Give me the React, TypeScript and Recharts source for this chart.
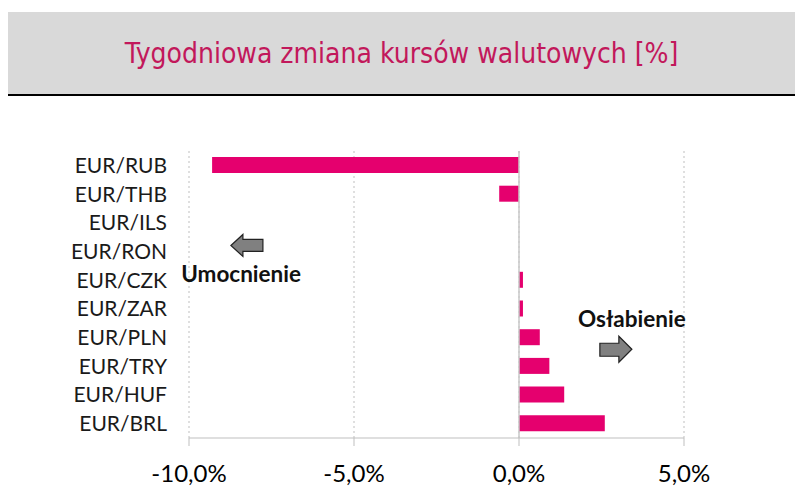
import React from 'react';
import { BarChart, Bar, XAxis, YAxis, CartesianGrid, ReferenceLine, ReferenceDot } from 'recharts';

const categories = ['EUR/RUB', 'EUR/THB', 'EUR/ILS', 'EUR/RON', 'EUR/CZK', 'EUR/ZAR', 'EUR/PLN', 'EUR/TRY', 'EUR/HUF', 'EUR/BRL'];
const changes = [-9.3, -0.6, 0, 0, 0.12, 0.12, 0.63, 0.92, 1.37, 2.6];
const xTicks = [-10, -5, 0, 5];
const title = 'Tygodniowa zmiana kursów walutowych [%]';
const leftLabel = 'Umocnienie';
const rightLabel = 'Osłabienie';

const data = categories.map((c, i) => ({ name: c, value: changes[i] }));

const fmt = (v: number) => `${v.toFixed(1).replace('.', ',')}%`;

const LeftArrow = (props: any) => {
  const { cx, cy } = props;
  const x = cx, y = cy - 6;
  const pts = [
    [x, y],
    [x + 12, y - 11],
    [x + 12, y - 6],
    [x + 32, y - 6],
    [x + 32, y + 6],
    [x + 12, y + 6],
    [x + 12, y + 11],
  ].map(p => p.join(',')).join(' ');
  return <polygon points={pts} fill="#808080" stroke="#222" strokeWidth={1.2} />;
};

const RightArrow = (props: any) => {
  const { cx, cy } = props;
  const x = cx, y = cy - 17;
  const pts = [
    [x, y],
    [x - 13, y - 13],
    [x - 13, y - 6],
    [x - 32, y - 6],
    [x - 32, y + 7],
    [x - 13, y + 7],
    [x - 13, y + 13],
  ].map(p => p.join(',')).join(' ');
  return <polygon points={pts} fill="#808080" stroke="#222" strokeWidth={1.2} />;
};

const makeText = (text: string, dy: number) => (props: any) => {
  const { cx, cy } = props;
  return (
    <text x={cx} y={cy + dy} textAnchor="middle" dominantBaseline="central"
      fontFamily="Lato, 'Open Sans', sans-serif" fontWeight={700} fontSize={22.5} fill="#111">
      {text}
    </text>
  );
};

export default function App() {
  return (
    <div style={{ position: 'absolute', left: 0, top: 0, width: 800, height: 504, background: '#fff' }}>
      <div style={{
        position: 'absolute', left: 8, top: 12, width: 787, height: 82,
        background: '#D9D9D9', borderBottom: '2px solid #000',
        display: 'flex', alignItems: 'center', justifyContent: 'center',
        fontFamily: "'DejaVu Sans Condensed', 'DejaVu Sans', sans-serif", fontSize: 28, color: '#C2185B',
      }}>
        {title}
      </div>
      <div style={{ position: 'absolute', left: 0, top: 0 }}>
        <BarChart width={800} height={504} data={data} layout="vertical"
          margin={{ top: 151, right: 116, bottom: 36, left: 9 }} barSize={16}>
          <CartesianGrid horizontal={false} vertical={true} stroke="#BFBFBF" strokeDasharray="2 3" />
          <XAxis type="number" domain={[-10, 5]} ticks={xTicks} tickFormatter={fmt}
            axisLine={{ stroke: '#BFBFBF' }} tickLine={{ stroke: '#BFBFBF' }} tickSize={8}
            tickMargin={19} height={30}
            tick={{ fill: '#000', fontSize: 24, fontFamily: "Lato, 'Open Sans', sans-serif" }} />
          <YAxis type="category" dataKey="name" width={180} axisLine={false} tickLine={false}
            tickMargin={16} interval={0}
            tick={{ fill: '#1a1a1a', fontSize: 21, fontFamily: "Lato, 'Open Sans', sans-serif" }} />
          <ReferenceLine x={0} stroke="#C8C8C8" strokeWidth={1.5} />
          <Bar dataKey="value" fill="#E5006E" isAnimationActive={false} />
          <ReferenceDot x={-8.73} y="EUR/RON" r={0} ifOverflow="visible" shape={LeftArrow} />
          <ReferenceDot x={-8.42} y="EUR/CZK" r={0} ifOverflow="visible" shape={makeText(leftLabel, -7)} />
          <ReferenceDot x={3.42} y="EUR/PLN" r={0} ifOverflow="visible" shape={makeText(rightLabel, -19)} />
          <ReferenceDot x={3.42} y="EUR/TRY" r={0} ifOverflow="visible" shape={RightArrow} />
        </BarChart>
      </div>
    </div>
  );
}
